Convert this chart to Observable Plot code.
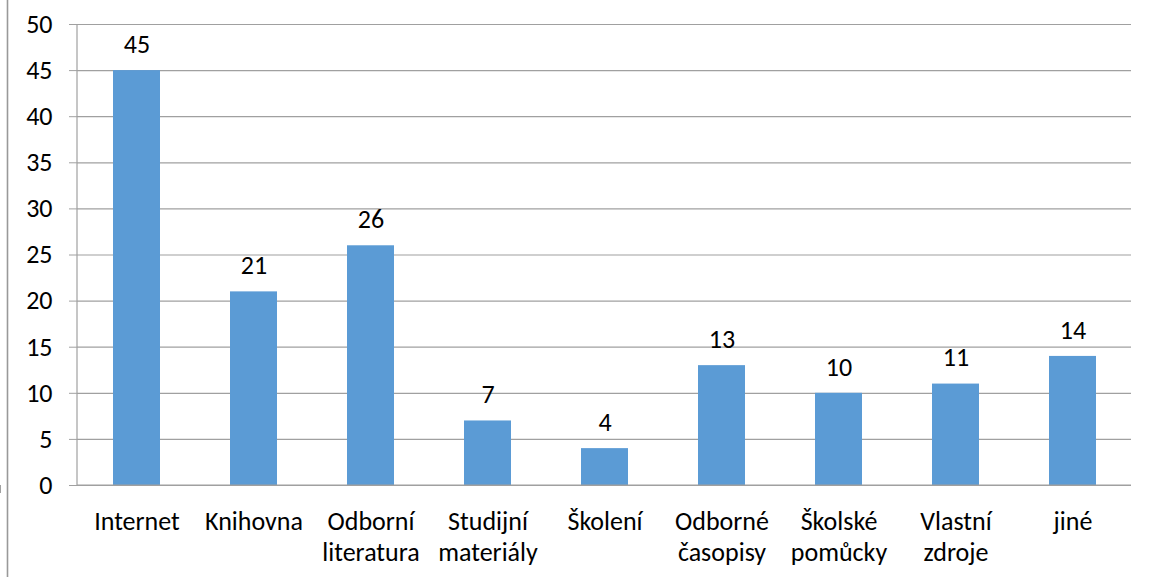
<!DOCTYPE html>
<html><head><meta charset="utf-8">
<script src="https://cdn.jsdelivr.net/npm/d3@7"></script>
<script src="https://cdn.jsdelivr.net/npm/@observablehq/plot@0.6"></script>
<style>
html,body{margin:0;padding:0;background:#fff;}
svg{font-family:Carlito, Lato, "Open Sans", sans-serif;}
</style>
</head><body>
<div id="chart"></div>
<script>
const categories = ["Internet","Knihovna","Odborní literatura","Studijní materiály","Školení","Odborné časopisy","Školské pomůcky","Vlastní zdroje","jiné"];
const labels = ["Internet","Knihovna","Odborní\nliteratura","Studijní\nmateriály","Školení","Odborné\nčasopisy","Školské\npomůcky","Vlastní\nzdroje","jiné"];
const values = [45,21,26,7,4,13,10,11,14];
const yTicks = [0,5,10,15,20,25,30,35,40,45,50];

const data = categories.map((c,i)=>({cat:c, value:values[i]}));
const labelOf = new Map(categories.map((c,i)=>[c,labels[i]]));
const gridColor = "#a0a0a0";
const fs = 26;

// category boundary ticks, axis lines and chart border drawn from the scales
function axisLines(index, scales, values, dim) {
  const x = scales.x, y = scales.y;
  const ns = "http://www.w3.org/2000/svg";
  const g = document.createElementNS(ns, "g");
  const step = x.step ?? x.bandwidth / 0.4;
  const y0 = y(0);
  const left = dim.marginLeft, right = dim.width - dim.marginRight;
  const line = (x1,y1,x2,y2,c,w) => {
    const l = document.createElementNS(ns, "line");
    l.setAttribute("x1",x1); l.setAttribute("y1",y1);
    l.setAttribute("x2",x2); l.setAttribute("y2",y2);
    l.setAttribute("stroke",c || gridColor);
    l.setAttribute("stroke-width",w || 1.2);
    g.appendChild(l);
  };
  line(7.5, 0, 7.5, dim.height, "#999999", 1.6);
  line(left, y(yTicks[yTicks.length-1]), left, y0);
  line(left, y0, right, y0);
  const bounds = categories.map(c => x(c) + x.bandwidth/2 - step/2);
  bounds.push(x(categories[categories.length-1]) + x.bandwidth/2 + step/2);
  for (const b of bounds) line(b, y0, b, y0 + 8);
  return g;
}

const chart = Plot.plot({
  width: 1149,
  height: 577,
  marginLeft: 77,
  marginRight: 18,
  marginTop: 24,
  marginBottom: 92,
  style: {fontSize: fs + "px", fontFamily: "Carlito, Lato, 'Open Sans', sans-serif", color: "#000", background: "#fff"},
  x: {domain: categories, paddingInner: 0.6, paddingOuter: 0.3, label: null},
  y: {domain: [0, 50], label: null},
  marks: [
    Plot.gridY(yTicks, {stroke: gridColor, strokeOpacity: 1, strokeWidth: 1.2}),
    Plot.axisY(yTicks, {tickSize: 8, tickPadding: 17, stroke: gridColor, strokeOpacity: 1, tickFormat: d => String(d), fontSize: fs, fill: "#000", label: null}),
    Plot.barY(data, {x: "cat", y: "value", fill: "#5B9BD5"}),
    axisLines,
    Plot.axisX({tickSize: 0, tickPadding: 22, tickFormat: d => labelOf.get(d), lineHeight: 1.2, fontSize: fs, fill: "#000", label: null}),
    Plot.text(data, {x: "cat", y: "value", text: d => String(d.value), dy: -26, fontSize: fs, fill: "#000"})
  ]
});
document.getElementById("chart").appendChild(chart);
</script>
</body></html>
